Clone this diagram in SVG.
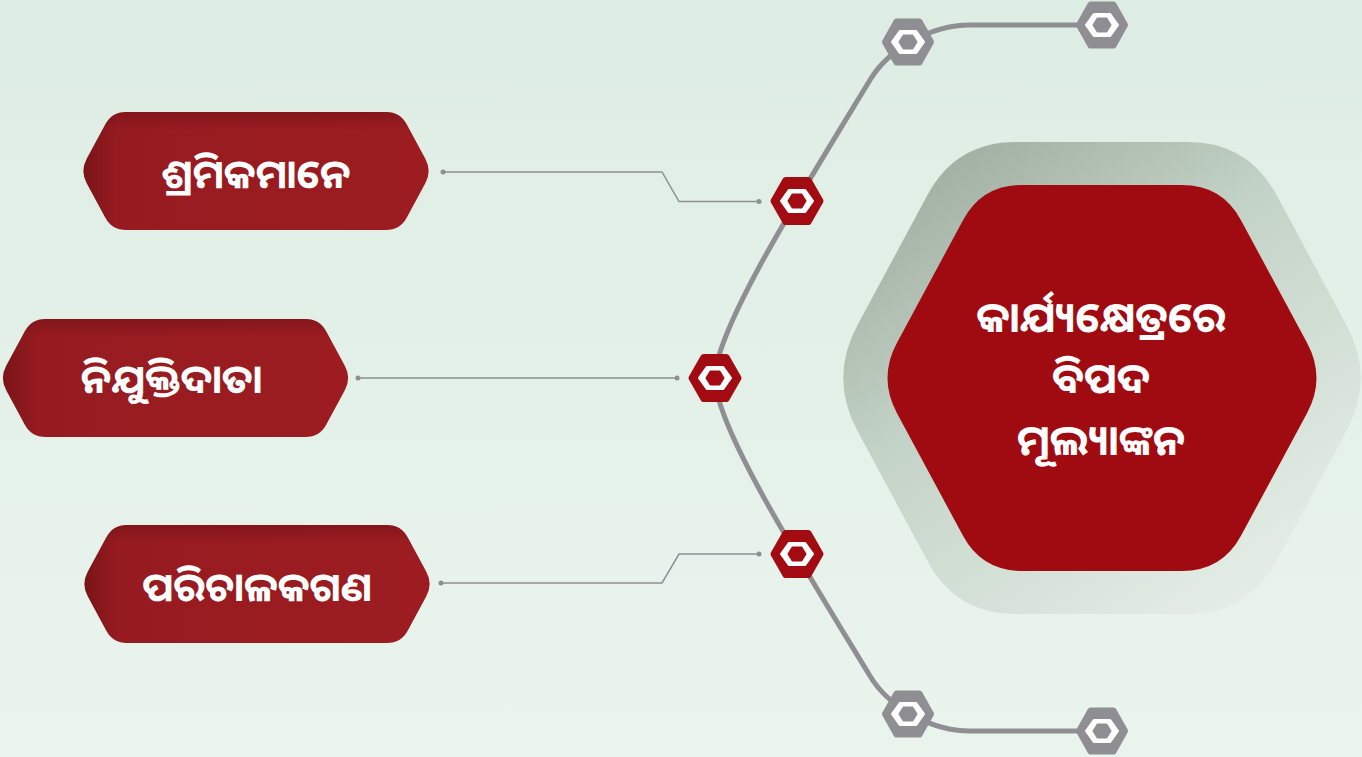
<svg xmlns="http://www.w3.org/2000/svg" width="1362" height="757" viewBox="0 0 1362 757">
  <defs>
    <linearGradient id="bg" x1="0" y1="0" x2="0" y2="1">
      <stop offset="0" stop-color="#deede3"/>
      <stop offset="1" stop-color="#e9f4ed"/>
    </linearGradient>
    <linearGradient id="nodeFill" x1="0" y1="0" x2="1" y2="0">
      <stop offset="0" stop-color="#7a1418"/>
      <stop offset="0.1" stop-color="#961b20"/>
      <stop offset="1" stop-color="#9c1c21"/>
    </linearGradient>
    <linearGradient id="nodeTop" x1="0" y1="0" x2="0" y2="1">
      <stop offset="0" stop-color="#5a0c10" stop-opacity="0.35"/>
      <stop offset="0.15" stop-color="#5a0c10" stop-opacity="0"/>
    </linearGradient>
    <linearGradient id="outerHex" x1="0" y1="0" x2="0.75" y2="1">
      <stop offset="0" stop-color="#97a498"/>
      <stop offset="0.45" stop-color="#c3d2c6"/>
      <stop offset="1" stop-color="#e4eee6"/>
    </linearGradient>
    <path id="nodeShape" d="M -130,-59 L 130,-59 Q 144,-59 150.68,-46.69 L 169.32,-12.31 Q 176,0 169.32,12.31 L 150.68,46.69 Q 144,59 130,59 L -130,59 Q -144,59 -150.68,46.69 L -169.32,12.31 Q -176,0 -169.32,-12.31 L -150.68,-46.69 Q -144,-59 -130,-59 Z"/>
    <g id="hexRed">
      <polygon points="-23.5,0 -11.5,-21 11.5,-21 23.5,0 11.5,21 -11.5,21" fill="#a30b12" stroke="#a30b12" stroke-width="6" stroke-linejoin="round"/>
      <polygon points="-15.5,0 -8,-10.5 8,-10.5 15.5,0 8,10.5 -8,10.5" fill="#ffffff" stroke="#ffffff" stroke-width="3" stroke-linejoin="round"/>
      <polygon points="-8.5,0 -4.5,-6.5 4.5,-6.5 8.5,0 4.5,6.5 -4.5,6.5" fill="#a30b12" stroke="#a30b12" stroke-width="2" stroke-linejoin="round"/>
    </g>
    <g id="hexGray">
      <polygon points="-23,0 -11.5,-20.5 11.5,-20.5 23,0 11.5,20.5 -11.5,20.5" fill="#8f8e93" stroke="#8f8e93" stroke-width="6" stroke-linejoin="round"/>
      <polygon points="-15.5,0 -8,-10.5 8,-10.5 15.5,0 8,10.5 -8,10.5" fill="#ffffff" stroke="#ffffff" stroke-width="3" stroke-linejoin="round"/>
      <polygon points="-8.5,0 -4.5,-6.5 4.5,-6.5 8.5,0 4.5,6.5 -4.5,6.5" fill="#8f8e93" stroke="#8f8e93" stroke-width="2" stroke-linejoin="round"/>
    </g>
  </defs>
  <style>
    .label { font-family: "Noto Sans Oriya", "Noto Sans", "DejaVu Sans", sans-serif; font-weight: bold; fill: #ffffff; text-anchor: middle; }
    .side { font-size: 40px; }
    .center { font-size: 42px; }
    .spine { fill: none; stroke: #8f8e93; stroke-width: 5; stroke-linecap: round; }
    .conn { fill: none; stroke: #8f8f8f; stroke-width: 1.5; }
    .dot { fill: #8f8f8f; }
  </style>

  <rect x="0" y="0" width="1362" height="757" fill="url(#bg)"/>

  <g id="connectors">
    <path class="spine" d="M 1102,25 L 970,25 C 930,25 888,50 870,80 C 800,195 715,330 715,378 C 715,426 800,561 870,676 C 888,706 930,731 970,731 L 1102,731"/>
    <polyline class="conn" points="443,172 662,172 679,201.5 759,201.5"/>
    <circle class="dot" cx="443" cy="172" r="2.5"/>
    <circle class="dot" cx="759" cy="201.5" r="2.5"/>
    <line class="conn" x1="358" y1="378" x2="677" y2="378"/>
    <circle class="dot" cx="358" cy="378" r="2.5"/>
    <circle class="dot" cx="677" cy="378" r="2.5"/>
    <polyline class="conn" points="441,583 662,583 679,554 759,554"/>
    <circle class="dot" cx="441" cy="583" r="2.5"/>
    <circle class="dot" cx="759" cy="554" r="2.5"/>
  </g>

  <g id="markers">
    <use href="#hexGray" x="1102" y="25"/>
    <use href="#hexGray" x="908" y="42"/>
    <use href="#hexRed" x="797" y="201"/>
    <use href="#hexRed" x="715" y="378"/>
    <use href="#hexRed" x="797" y="554"/>
    <use href="#hexGray" x="908" y="714"/>
    <use href="#hexGray" x="1102" y="731"/>
  </g>

  <g id="node-1" transform="translate(256,171)">
    <use href="#nodeShape" fill="url(#nodeFill)"/>
    <use href="#nodeShape" fill="url(#nodeTop)"/>
    <text class="label side" x="0" y="17">ଶ୍ରମିକମାନେ</text>
  </g>

  <g id="node-2" transform="translate(175.5,378)">
    <use href="#nodeShape" fill="url(#nodeFill)"/>
    <use href="#nodeShape" fill="url(#nodeTop)"/>
    <text class="label side" x="-4" y="15">ନିଯୁକ୍ତିଦାତା</text>
  </g>

  <g id="node-3" transform="translate(257,584)">
    <use href="#nodeShape" fill="url(#nodeFill)"/>
    <use href="#nodeShape" fill="url(#nodeTop)"/>
    <text class="label side" x="0" y="17">ପରିଚାଳକଗଣ</text>
  </g>

  <g id="center-node">
    <path d="M 1016,142 L 1188,142 Q 1248,142 1276.4,194.8 L 1346.6,325.2 Q 1375,378 1346.6,430.8 L 1276.4,561.2 Q 1248,614 1188,614 L 1016,614 Q 956,614 927.6,561.2 L 857.4,430.8 Q 829,378 857.4,325.2 L 927.6,194.8 Q 956,142 1016,142 Z" fill="url(#outerHex)"/>
    <path d="M 1022,185 L 1182,185 Q 1222,185 1241,220.2 L 1307,342.8 Q 1326,378 1307,413.2 L 1241,535.8 Q 1222,571 1182,571 L 1022,571 Q 982,571 963,535.8 L 897,413.2 Q 878,378 897,342.8 L 963,220.2 Q 982,185 1022,185 Z" fill="#a00b12"/>
    <text class="label center" x="1101" y="332">କାର୍ଯ୍ୟକ୍ଷେତ୍ରରେ</text>
    <text class="label center" x="1101" y="393">ବିପଦ</text>
    <text class="label center" x="1101" y="455">ମୂଲ୍ୟାଙ୍କନ</text>
  </g>
</svg>
